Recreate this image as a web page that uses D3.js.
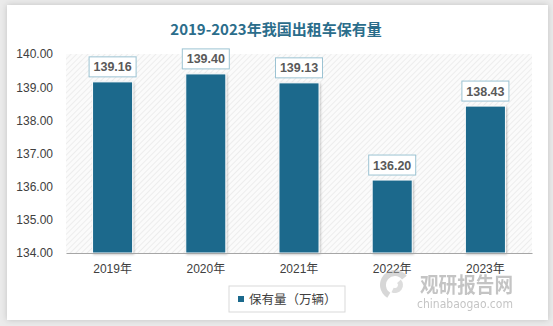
<!DOCTYPE html>
<html>
<head>
<meta charset="utf-8">
<script src="https://cdn.jsdelivr.net/npm/d3@7"></script>
<style>
  html, body { margin: 0; padding: 0; background: #ebebeb; }
  svg { display: block; }
</style>
</head>
<body>
<svg id="chart" width="553" height="326"></svg>
<script>
// Taxi fleet size in China, 2019–2023 (10,000 vehicles)
const years = ["2019年", "2020年", "2021年", "2022年", "2023年"];
const fleet = [139.16, 139.40, 139.13, 136.20, 138.43];
const yTicks = [134, 135, 136, 137, 138, 139, 140];
const seriesName = "保有量（万辆）";
const title = "2019-2023年我国出租车保有量";

const svg = d3.select("#chart");
const defs = svg.append("defs");

// soft card shadow
const cardShadow = defs.append("filter").attr("id", "cardShadow")
  .attr("x", "-5%").attr("y", "-5%").attr("width", "110%").attr("height", "110%");
cardShadow.append("feDropShadow").attr("dx", 0).attr("dy", 0)
  .attr("stdDeviation", 3).attr("flood-color", "#000").attr("flood-opacity", 0.18);

// bar shadow
const barShadow = defs.append("filter").attr("id", "barShadow")
  .attr("x", "-20%").attr("y", "-20%").attr("width", "140%").attr("height", "140%");
barShadow.append("feDropShadow").attr("dx", 1).attr("dy", 1)
  .attr("stdDeviation", 1.2).attr("flood-color", "#000").attr("flood-opacity", 0.25);

// diagonal hatch for the plot area
const hatch = defs.append("pattern").attr("id", "hatch")
  .attr("patternUnits", "userSpaceOnUse").attr("width", 4).attr("height", 4)
  .attr("patternTransform", "rotate(45)");
hatch.append("rect").attr("width", 4).attr("height", 4).attr("fill", "#fbfbfb");
hatch.append("line").attr("x1", 0).attr("y1", 0).attr("x2", 0).attr("y2", 4)
  .attr("stroke", "#e4e4e4").attr("stroke-width", 1.2);

// card
svg.append("rect").attr("x", 7).attr("y", 5).attr("width", 541).attr("height", 315)
  .attr("fill", "#fff").attr("filter", "url(#cardShadow)");

svg.append("text").attr("x", 276).attr("y", 35).attr("text-anchor", "middle")
  .attr("font-family", "'Noto Sans CJK SC', sans-serif").attr("font-weight", "bold")
  .attr("font-size", 15).attr("fill", "#2b6d8b").text(title);

const plot = { left: 66, right: 532, top: 54, bottom: 253 };

const x = d3.scaleBand().domain(years).range([plot.left, plot.right])
  .paddingInner(0.57).paddingOuter(0.285);
const y = d3.scaleLinear().domain([134, 140]).range([plot.bottom, plot.top]);

// plot background
svg.append("rect").attr("x", plot.left).attr("y", plot.top)
  .attr("width", plot.right - plot.left).attr("height", plot.bottom - plot.top)
  .attr("fill", "url(#hatch)");

// y axis (labels only)
const yAxis = svg.append("g").attr("transform", `translate(${plot.left},0)`)
  .call(d3.axisLeft(y).tickValues(yTicks).tickFormat(d3.format(".2f")).tickSize(0).tickPadding(13));
yAxis.select(".domain").remove();
yAxis.selectAll("text").attr("font-family", "'Liberation Sans', Arial, sans-serif")
  .attr("font-size", 12).attr("fill", "#404040");

// bars
svg.append("g").selectAll("rect").data(fleet).join("rect")
  .attr("x", (d, i) => x(years[i]))
  .attr("y", d => y(d))
  .attr("width", x.bandwidth())
  .attr("height", d => y(134) - y(d))
  .attr("fill", "#1b698c")
  .attr("stroke", "#fff").attr("stroke-width", 1)
  .attr("filter", "url(#barShadow)");

// x axis
const xAxis = svg.append("g").attr("transform", `translate(0,${plot.bottom})`)
  .call(d3.axisBottom(x).tickSize(0).tickPadding(11));
xAxis.select(".domain").attr("stroke", "#a6a6a6").attr("stroke-width", 1.2);
xAxis.selectAll("text").attr("font-family", "'Liberation Sans', 'Noto Sans CJK SC', sans-serif")
  .attr("font-size", 12).attr("fill", "#404040");

// value labels
const labels = svg.append("g").selectAll("g").data(fleet).join("g")
  .attr("transform", (d, i) => `translate(${x(years[i]) + x.bandwidth() / 2},${y(d) - 15})`);
labels.append("rect").attr("x", -23.5).attr("y", -10).attr("width", 47).attr("height", 20)
  .attr("fill", "#fff").attr("stroke", "#9cc3d3").attr("stroke-width", 1);
labels.append("text").attr("text-anchor", "middle").attr("dy", "0.36em")
  .attr("font-family", "'Liberation Sans', Arial, sans-serif").attr("font-weight", "bold")
  .attr("font-size", 12.5).attr("fill", "#595959")
  .text(d => d3.format(".2f")(d));

// watermark
const wm = svg.append("g").attr("opacity", 0.5);
const logo = wm.append("g").attr("transform", "translate(395,285)");
logo.append("path").attr("d", d3.arc()({ innerRadius: 9, outerRadius: 15, startAngle: -2.6, endAngle: 0.9 }))
  .attr("fill", "#b0b0b0");
logo.append("path").attr("d", d3.arc()({ innerRadius: 3, outerRadius: 8, startAngle: 0.8, endAngle: 3.6 }))
  .attr("fill", "#bdbdbd");
wm.append("text").attr("x", 420).attr("y", 292)
  .attr("font-family", "'Noto Sans CJK SC', sans-serif").attr("font-weight", "bold")
  .attr("font-size", 21).attr("textLength", 93).attr("lengthAdjust", "spacingAndGlyphs")
  .attr("fill", "#8a8a8a").text("观研报告网");
wm.append("text").attr("x", 417).attr("y", 308)
  .attr("font-family", "'DejaVu Sans', sans-serif")
  .attr("font-size", 11.5).attr("textLength", 96).attr("lengthAdjust", "spacingAndGlyphs")
  .attr("fill", "#8a8a8a").text("chinabaogao.com");

// legend
const legend = svg.append("g").attr("transform", "translate(229,286)");
legend.append("rect").attr("width", 116).attr("height", 26)
  .attr("fill", "#fff").attr("stroke", "#d9d9d9");
legend.append("rect").attr("x", 9).attr("y", 10).attr("width", 6).attr("height", 6)
  .attr("fill", "#1b698c");
legend.append("text").attr("x", 20).attr("y", 13).attr("dy", "0.36em")
  .attr("font-family", "'Noto Sans CJK SC', sans-serif")
  .attr("font-size", 12.5).attr("fill", "#404040").text(seriesName);
</script>
</body>
</html>
